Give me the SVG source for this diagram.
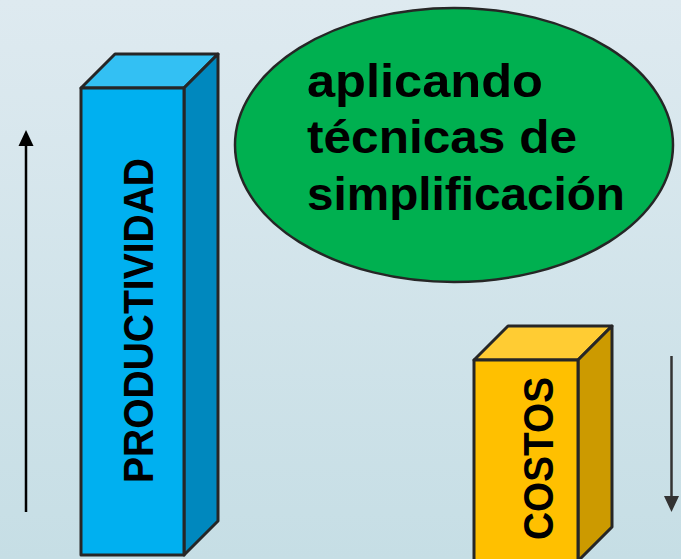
<svg xmlns="http://www.w3.org/2000/svg" width="681" height="559" viewBox="0 0 681 559">
  <defs>
    <linearGradient id="bg" x1="0" y1="0" x2="0" y2="1">
      <stop offset="0" stop-color="#DEEAF0"/>
      <stop offset="1" stop-color="#C6DEE5"/>
    </linearGradient>
    <style>
      .edge { stroke: #262626; stroke-width: 3; stroke-linejoin: round; }
      .lbl { font-family: "Liberation Sans", Arial, sans-serif; font-weight: bold; fill: #000; }
    </style>
  </defs>
  <rect width="681" height="559" fill="url(#bg)"/>

  <g id="connectors">
    <line x1="26" y1="512" x2="26" y2="145" stroke="#000" stroke-width="2.5"/>
    <path d="M18.5,146 L33.5,146 L26,130 Z" fill="#000"/>
    <line x1="671.5" y1="356" x2="671.5" y2="497" stroke="#333" stroke-width="2.5"/>
    <path d="M664,496 L679,496 L671.5,512 Z" fill="#333"/>
  </g>

  <g id="productividad">
    <polygon class="edge" points="81,88 115,54 218,54 184,88" fill="#33C0F3"/>
    <polygon class="edge" points="184,88 218,54 218,521 184,555" fill="#0088BE"/>
    <rect class="edge" x="81" y="88" width="103" height="467" fill="#00B0F0"/>
    <text class="lbl" font-size="43" transform="translate(153,320.5) rotate(-90)" text-anchor="middle" textLength="325" lengthAdjust="spacingAndGlyphs">PRODUCTIVIDAD</text>
  </g>

  <g id="costos">
    <polygon class="edge" points="474,360 508,326 612,326 578,360" fill="#FFCC33"/>
    <polygon class="edge" points="578,360 612,326 612,527 578,561" fill="#CC9A00"/>
    <rect class="edge" x="474" y="360" width="104" height="210" fill="#FFC000"/>
    <text class="lbl" font-size="43" transform="translate(553,458.5) rotate(-90)" text-anchor="middle" textLength="163" lengthAdjust="spacingAndGlyphs">COSTOS</text>
  </g>

  <g id="tecnicas">
    <ellipse cx="454" cy="145" rx="219" ry="137" fill="#00B050" stroke="#262626" stroke-width="2.5"/>
    <text class="lbl" font-size="46" x="307" y="97" textLength="236" lengthAdjust="spacingAndGlyphs">aplicando</text>
    <text class="lbl" font-size="46" x="307" y="153" textLength="270" lengthAdjust="spacingAndGlyphs">técnicas de</text>
    <text class="lbl" font-size="46" x="307" y="210" textLength="318" lengthAdjust="spacingAndGlyphs">simplificación</text>
  </g>
</svg>
